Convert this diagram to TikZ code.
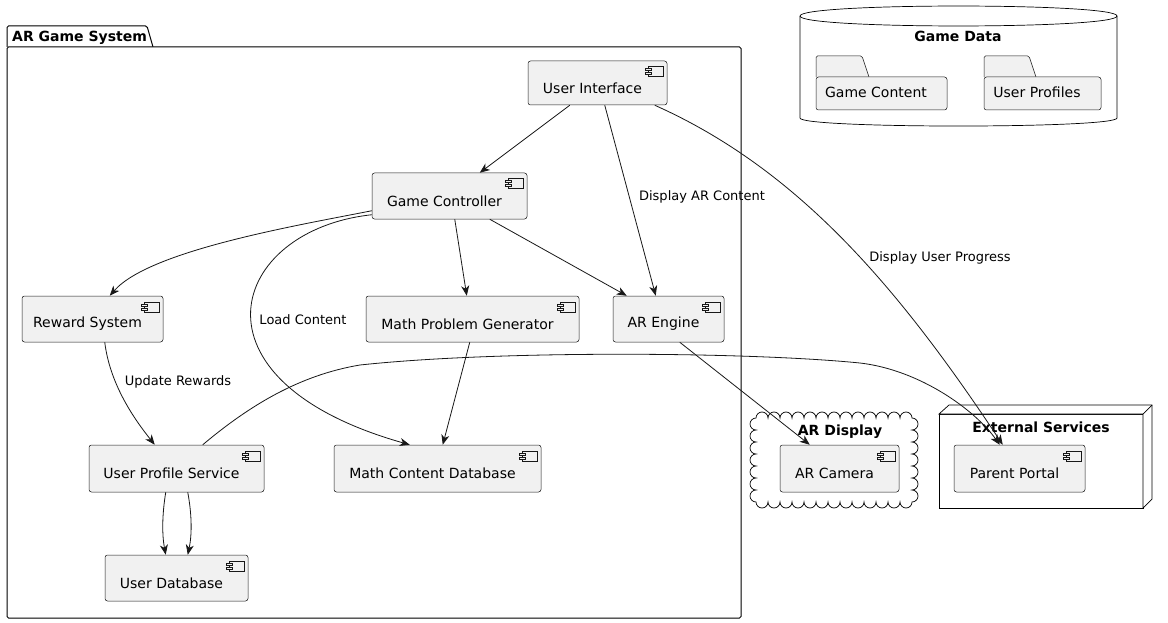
\documentclass[tikz,border=0pt]{standalone}
\usepackage{fontspec}
\setmainfont{DejaVu Sans}
\usetikzlibrary{arrows.meta}
\definecolor{ln}{HTML}{181818}
\definecolor{bx}{HTML}{F1F1F1}
\tikzset{
 comp/.style={draw=ln, fill=bx, line width=0.5pt, rounded corners=2.5pt, inner sep=0pt},
 ctext/.style={font=\fontsize{14}{16}\selectfont, text=black, inner sep=0pt},
 ttl/.style={font=\bfseries\fontsize{14}{16}\selectfont, inner sep=0pt},
 elab/.style={font=\fontsize{13}{15}\selectfont, inner sep=0pt},
 conn/.style={draw=ln, line width=0.8pt, -{Stealth[length=10pt,width=8pt,inset=3pt]}},
 cont/.style={draw=black, line width=1pt},
 icn/.style={draw=ln, line width=0.5pt, fill=bx},
}
\newcommand{\mkcomp}[6]{%
 \node[comp, minimum width=#4pt, minimum height=#5pt] (#1) at (#2,-#3) {};
 \node[ctext] (#1t) at ([xshift=-5pt,yshift=-5pt]#1.center) {#6};
 \draw[icn] ([xshift=-19pt,yshift=-6pt]#1.north east) rectangle ([xshift=-4pt,yshift=-16pt]#1.north east);
 \draw[icn] ([xshift=-22pt,yshift=-8pt]#1.north east) rectangle ([xshift=-16pt,yshift=-10pt]#1.north east);
 \draw[icn] ([xshift=-22pt,yshift=-12pt]#1.north east) rectangle ([xshift=-16pt,yshift=-14pt]#1.north east);
}
\begin{document}
\begin{tikzpicture}[x=1pt,y=1pt]
\useasboundingbox (0,0) rectangle (1168,-623);
% AR Game System package
\draw[cont, fill=white, rounded corners=1.5pt] (7,-47) -- (7,-26) -- (147,-26) -- (153,-47);
\draw[cont, fill=white, rounded corners=1.5pt] (7,-47) rectangle (741,-618);
\node[ttl, anchor=west] (pkgt) at (12,-38) {AR Game System};
% Game Data database
\draw[line width=0.7pt, draw=black, fill=white] (800,-16) .. controls (800,-2.7) and (1117,-2.7) .. (1117,-16) -- (1117,-118) .. controls (1117,-128.7) and (800,-128.7) .. (800,-118) -- cycle;
\draw[line width=0.7pt, draw=black] (800,-16) .. controls (800,-29.3) and (1117,-29.3) .. (1117,-16);
\node[ttl] (gdt) at (958,-36) {Game Data};
\draw[icn, rounded corners=1.5pt] (816,-77) -- (816,-56) -- (862,-56) -- (869,-77);
\draw[icn, rounded corners=2.5pt] (816,-77) rectangle (947,-110);
\node[ctext] (gc1) at (876,-92) {Game Content};
\draw[icn, rounded corners=1.5pt] (984,-77) -- (984,-56) -- (1029,-56) -- (1036,-77);
\draw[icn, rounded corners=2.5pt] (984,-77) rectangle (1101,-110);
\node[ctext] (up1) at (1037,-92) {User Profiles};
% AR Display cloud
\draw[line width=0.7pt, draw=black, fill=white] (756,-418)
  \foreach \i in {1,...,13}{ arc[start angle=180, end angle=0, radius=6] }
  \foreach \i in {1,...,7}{ arc[start angle=90, end angle=-90, radius=6] }
  \foreach \i in {1,...,13}{ arc[start angle=0, end angle=-180, radius=6] }
  \foreach \i in {1,...,7}{ arc[start angle=-90, end angle=-270, radius=6] } -- cycle;
\node[ttl] (ardt) at (840,-432) {AR Display};
% External Services node
\draw[line width=0.7pt, draw=black, fill=white] (939,-414) rectangle (1143,-508);
\draw[line width=0.7pt, draw=black, fill=white] (939,-414) -- (949,-405) -- (1152,-405) -- (1152,-499) -- (1143,-508) -- (1143,-414) -- cycle;
\draw[line width=0.7pt] (1143,-414) -- (1152,-405);
\node[ttl] (est) at (1041,-427) {External Services};
% components
\mkcomp{ui}{597.5}{83}{139}{44}{User Interface}
\mkcomp{gc}{449.5}{196}{155}{46}{Game Controller}
\mkcomp{rw}{92.5}{319}{141}{46}{Reward System}
\mkcomp{mpg}{472.5}{319}{213}{46}{Math Problem Generator}
\mkcomp{are}{668.5}{319}{111}{46}{AR Engine}
\mkcomp{ups}{176.5}{468.5}{175}{47}{User Profile Service}
\mkcomp{mcd}{437.5}{468.5}{207}{47}{Math Content Database}
\mkcomp{udb}{176.5}{578}{143}{46}{User Database}
\mkcomp{arc}{839.5}{468.5}{119}{47}{AR Camera}
\mkcomp{pp}{1019.5}{468.5}{131}{47}{Parent Portal}
% connectors
\draw[conn] ([xshift=42pt]ui.south west) -- ([xshift=108pt]gc.north west);
\draw[conn] ([xshift=77pt]ui.south west) -- ([xshift=43pt]are.north west);
\node[elab] (l1) at (702,-197) {Display AR Content};
\draw[conn] ([xshift=127pt]ui.south west) .. controls (800,-170) and (900,-290) .. ([xshift=49pt]pp.north west);
\node[elab] (l2) at (940,-258) {Display User Progress};
\draw[conn] ([yshift=-38pt]gc.north west) .. controls (300,-225) and (150,-250) .. ([xshift=88pt]rw.north west);
\draw[conn] ([yshift=-42pt]gc.north west) .. controls (230,-230) and (180,-380) .. ([xshift=76pt]mcd.north west);
\node[elab] (l3) at (303,-320) {Load Content};
\draw[conn] ([xshift=83pt]gc.south west) -- ([xshift=101pt]mpg.north west);
\draw[conn] ([xshift=118pt]gc.south west) -- ([xshift=14pt]are.north west);
\draw[conn] ([xshift=83pt]rw.south west) .. controls (110,-385) and (135,-420) .. ([xshift=66pt]ups.north west);
\node[elab] (l4) at (178,-382) {Update Rewards};
\draw[conn] ([xshift=104pt]mpg.south west) -- ([xshift=109pt]mcd.north west);
\draw[conn] ([xshift=67pt]are.south west) -- ([xshift=30pt]arc.north west);
\draw[conn] ([xshift=114pt]ups.north west) .. controls (250,-405) and (300,-375) .. (360,-365) .. controls (500,-350) and (750,-352) .. (860,-363) .. controls (920,-370) and (975,-410) .. ([xshift=46pt]pp.north west);
\draw[conn] ([xshift=77pt]ups.south west) .. controls (162,-515) and (162,-535) .. ([xshift=61pt]udb.north west);
\draw[conn] ([xshift=99pt]ups.south west) .. controls (192,-515) and (192,-535) .. ([xshift=83pt]udb.north west);
\end{tikzpicture}
\end{document}
